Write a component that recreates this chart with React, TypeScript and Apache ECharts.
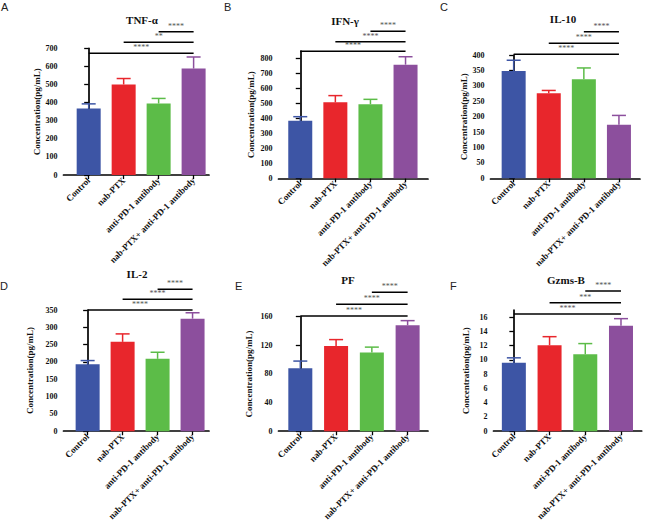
import React, { useEffect, useRef } from "react";
import * as echarts from "echarts";

const categories = ["Control", "nab-PTX", "anti-PD-1 antibody", "nab-PTX+ anti-PD-1 antibody"];
const barColors = ["#3D55A5", "#E8262C", "#5CBC48", "#8C4F9D"];

const titles = ["TNF-α", "IFN-γ", "IL-10", "IL-2", "PF", "Gzms-B"];
const letters = ["A", "B", "C", "D", "E", "F"];

const tnfMean = [367, 500, 395, 588];
const tnfSd = [26, 33, 28, 64];
const ifnMean = [385, 508, 495, 760];
const ifnSd = [27, 45, 33, 53];
const il10Mean = [348, 276, 321, 174];
const il10Sd = [35, 9, 37, 30];
const il2Mean = [193, 258, 209, 325];
const il2Sd = [11, 23, 19, 17];
const pfMean = [88, 119, 110, 148];
const pfSd = [10, 9, 7.5, 6.5];
const gzmMean = [9.6, 12.07, 10.8, 14.8];
const gzmSd = [0.7, 1.2, 1.5, 1.0];

const tnfTicks = [0, 100, 200, 300, 400, 500, 600, 700];
const ifnTicks = [0, 100, 200, 300, 400, 500, 600, 700, 800];
const il10Ticks = [0, 50, 100, 150, 200, 250, 300, 350, 400];
const il2Ticks = [0, 50, 100, 150, 200, 250, 300, 350];
const pfTicks = [0, 40, 80, 120, 160];
const gzmTicks = [0, 2, 4, 6, 8, 10, 12, 14, 16];

const yMax = [700, 850, 400, 350, 160, 17];

// comparisons: [from category, to category]
const comparisons = [[0, 3], [1, 3], [2, 3]];
const tnfStars = ["****", "**", "****"];
const ifnStars = ["****", "****", "****"];
const il10Stars = ["****", "****", "****"];
const il2Stars = ["****", "****", "****"];
const pfStars = ["****", "****", "****"];
const gzmStars = ["****", "***", "****"];

const means = [tnfMean, ifnMean, il10Mean, il2Mean, pfMean, gzmMean];
const sds = [tnfSd, ifnSd, il10Sd, il2Sd, pfSd, gzmSd];
const ticks = [tnfTicks, ifnTicks, il10Ticks, il2Ticks, pfTicks, gzmTicks];
const stars = [tnfStars, ifnStars, il10Stars, il2Stars, pfStars, gzmStars];

// layout (pixels)
const layout = [
  { left: 63.5, top: 48.3, width: 145.5, height: 126.7, xMin: -0.72, xMax: 3.44, bOff: [5, -6, -16.6], nameGap: 19.5 },
  { left: 278.5, top: 51.2, width: 149.5, height: 127.1, xMin: -0.62, xMax: 3.64, bOff: [0, -9.5, -20], nameGap: 23.5 },
  { left: 490.5, top: 55, width: 149.5, height: 123.3, xMin: -0.66, xMax: 3.6, bOff: [-0.7, -11.7, -23.3], nameGap: 22 },
  { left: 63.5, top: 310, width: 145.5, height: 124, xMin: -0.69, xMax: 3.47, bOff: [0, -10.7, -20.7], nameGap: 29 },
  { left: 278.5, top: 316.7, width: 149.5, height: 123.3, xMin: -0.61, xMax: 3.57, bOff: [-0.7, -12.4, -24.4], nameGap: 25 },
  { left: 493.5, top: 310.1, width: 148.2, height: 128.2, xMin: -0.57, xMax: 3.58, bOff: [4, -7.4, -19], nameGap: 23 },
];
const titlePos = [[142, 20], [345, 20.5], [563, 18.5], [137, 273.5], [348, 280], [566, 279.5]];
const letterPos = [[1, 1], [224, 1], [440, 1], [0, 280], [235, 280], [450, 280]];

const SERIF = '"Liberation Serif", "Times New Roman", serif';
const SANS = '"Liberation Sans", Arial, sans-serif';

export default function App() {
  const ref = useRef<HTMLDivElement>(null);
  useEffect(() => {
    document.body.style.margin = "0";
    if (!ref.current) return;
    const chart = echarts.init(ref.current, undefined, { renderer: "svg" });

    const grid: any[] = [];
    const xAxis: any[] = [];
    const yAxis: any[] = [];
    const series: any[] = [];
    const graphic: any[] = [];

    layout.forEach((L, p) => {
      grid.push({ left: L.left, top: L.top, width: L.width, height: L.height, containLabel: false });
      xAxis.push({
        type: "value",
        gridIndex: p,
        min: L.xMin,
        max: L.xMax,
        splitLine: { show: false },
        axisLine: { show: true, onZero: false, lineStyle: { color: "#000", width: 1.7 } },
        axisTick: { show: true, customValues: [0, 1, 2, 3], length: 4, lineStyle: { color: "#000", width: 1.3 } },
        axisLabel: {
          show: true,
          customValues: [0, 1, 2, 3],
          formatter: (v: number) => categories[Math.round(v)],
          rotate: 45,
          margin: 4,
          fontFamily: SERIF,
          fontWeight: "bold",
          fontSize: 9,
          color: "#111",
        },
      });
      yAxis.push({
        type: "value",
        gridIndex: p,
        min: 0,
        max: yMax[p],
        name: "Concentration(pg/mL)",
        nameLocation: "middle",
        nameGap: L.nameGap,
        nameTextStyle: { fontFamily: SERIF, fontWeight: "bold", fontSize: 9, color: "#111" },
        splitLine: { show: false },
        axisLine: { show: true, lineStyle: { color: "#000", width: 1.7 } },
        axisTick: { show: true, customValues: ticks[p], length: 4.5, lineStyle: { color: "#000", width: 1.3 } },
        axisLabel: {
          show: true,
          customValues: ticks[p],
          margin: 6,
          fontFamily: SERIF,
          fontWeight: "bold",
          fontSize: 8,
          color: "#111",
        },
      });

      series.push({
        type: "bar",
        xAxisIndex: p,
        yAxisIndex: p,
        barWidth: 24,
        data: means[p].map((m, i) => ({ value: [i, m], itemStyle: { color: barColors[i] } })),
      });

      series.push({
        type: "custom",
        xAxisIndex: p,
        yAxisIndex: p,
        clip: false,
        data: means[p].map((m, i) => [i, m, m + sds[p][i]]),
        renderItem: (params: any, api: any) => {
          const i = api.value(0);
          const base = api.coord([i, api.value(1)]);
          const top = api.coord([i, api.value(2)]);
          const c = barColors[Math.round(i)];
          return {
            type: "group",
            children: [
              { type: "line", shape: { x1: base[0], y1: base[1], x2: top[0], y2: top[1] }, style: { stroke: c, lineWidth: 1.5 } },
              { type: "line", shape: { x1: top[0] - 7, y1: top[1], x2: top[0] + 7, y2: top[1] }, style: { stroke: c, lineWidth: 1.5 } },
            ],
          };
        },
      });

      series.push({
        type: "custom",
        xAxisIndex: p,
        yAxisIndex: p,
        clip: false,
        data: comparisons.map((c, k) => [c[0], c[1], k]),
        renderItem: (params: any, api: any) => {
          const k = api.value(2);
          const a = api.coord([api.value(0), 0]);
          const b = api.coord([api.value(1), 0]);
          const y = params.coordSys.y + L.bOff[k];
          return {
            type: "group",
            children: [
              { type: "line", shape: { x1: a[0], y1: y, x2: b[0], y2: y }, style: { stroke: "#000", lineWidth: 1.5 } },
              {
                type: "text",
                x: (a[0] + b[0]) / 2,
                y: y - 1.5,
                style: { text: stars[p][k], align: "center", verticalAlign: "bottom", fontSize: 8, fontFamily: SERIF, fill: "#555" },
              },
            ],
          };
        },
      });

      graphic.push({
        type: "text",
        x: titlePos[p][0],
        y: titlePos[p][1],
        style: { text: titles[p], align: "center", verticalAlign: "middle", fontFamily: SERIF, fontWeight: "bold", fontSize: 11, fill: "#111" },
      });
      graphic.push({
        type: "text",
        x: letterPos[p][0],
        y: letterPos[p][1],
        style: { text: letters[p], align: "left", verticalAlign: "top", fontFamily: SANS, fontSize: 11, fill: "#222" },
      });
    });

    chart.setOption({
      animation: false,
      backgroundColor: "#fff",
      grid,
      xAxis,
      yAxis,
      series,
      graphic,
    });
    return () => chart.dispose();
  }, []);
  return <div ref={ref} style={{ width: 646, height: 523 }} />;
}
